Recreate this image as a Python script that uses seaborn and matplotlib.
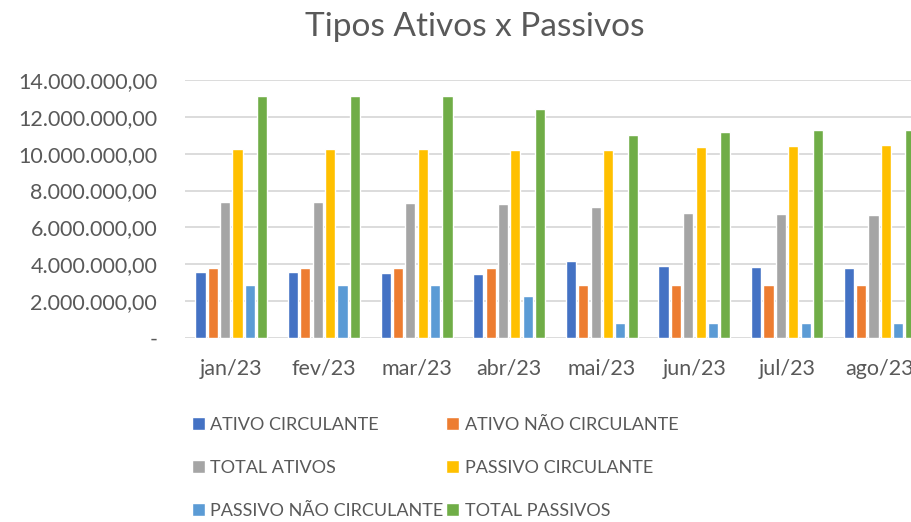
import pandas as pd
import matplotlib.pyplot as plt
import seaborn as sns

sns.set_style("white")
plt.rcParams['font.family'] = ['Lato', 'DejaVu Sans']

meses = ["jan/23", "fev/23", "mar/23", "abr/23", "mai/23", "jun/23", "jul/23", "ago/23"]

ativo_circ = [3600000, 3570000, 3530000, 3460000, 4200000, 3910000, 3870000, 3800000]
ativo_nao_circ = [3800000, 3800000, 3800000, 3800000, 2860000, 2860000, 2860000, 2860000]
total_ativos = [7400000, 7370000, 7350000, 7280000, 7090000, 6790000, 6750000, 6680000]
passivo_circ = [10240000, 10240000, 10240000, 10190000, 10190000, 10350000, 10440000, 10460000]
passivo_nao_circ = [2860000, 2860000, 2860000, 2260000, 800000, 800000, 800000, 800000]
total_passivos = [13120000, 13120000, 13120000, 12450000, 10990000, 11170000, 11260000, 11260000]

series = ["ATIVO CIRCULANTE", "ATIVO NÃO CIRCULANTE", "TOTAL ATIVOS",
          "PASSIVO CIRCULANTE", "PASSIVO NÃO CIRCULANTE", "TOTAL PASSIVOS"]
valores = [ativo_circ, ativo_nao_circ, total_ativos, passivo_circ, passivo_nao_circ, total_passivos]
cores = ["#4472C4", "#ED7D31", "#A5A5A5", "#FFC000", "#5B9BD5", "#70AD47"]

linhas = []
for nome, vals in zip(series, valores):
    for m, v in zip(meses, vals):
        linhas.append({"mes": m, "tipo": nome, "valor": v})
df = pd.DataFrame(linhas)

cinza = "#595959"

fig = plt.figure(figsize=(9.12, 5.22), dpi=100)
# o gráfico original está cortado à direita
ax = fig.add_axes([185 / 912, 184 / 522, 741 / 912, 258 / 522])

sns.barplot(data=df, x="mes", y="valor", hue="tipo", palette=dict(zip(series, cores)),
            hue_order=series, order=meses, width=0.8, gap=0.18, saturation=1, ax=ax)

ax.set_ylim(0, 14000000)
ax.set_xlim(-0.5, len(meses) - 0.5)
ax.set_yticks(range(0, 14000001, 2000000))


def fmt_br(v):
    if v == 0:
        return "-"
    s = f"{v:,.2f}"
    return s.replace(",", "X").replace(".", ",").replace("X", ".")


ax.set_yticklabels([fmt_br(v) for v in ax.get_yticks()])
ax.yaxis.grid(True, color="#D9D9D9", linewidth=1.3)
ax.set_axisbelow(True)
for s in ax.spines.values():
    s.set_visible(False)
ax.tick_params(axis="both", length=0, labelsize=15.5, colors=cinza)
ax.tick_params(axis="y", pad=20)
ax.tick_params(axis="x", pad=15)
ax.set_xlabel("")
ax.set_ylabel("")

handles, labels = ax.get_legend_handles_labels()
ax.get_legend().remove()
ordem = [0, 2, 4, 1, 3, 5]
fig.legend([handles[i] for i in ordem], [labels[i] for i in ordem],
           loc="center left", bbox_to_anchor=(192 / 912, 1 - 468 / 522), ncol=2,
           frameon=False, fontsize=13, labelcolor=cinza, handlelength=0.72,
           handleheight=0.72, handletextpad=0.3, columnspacing=0.15, labelspacing=1.49,
           borderpad=0, borderaxespad=0)

fig.text(475 / 912, 1 - 27 / 522, "Tipos Ativos x Passivos", ha="center", va="center",
         fontsize=24, color=cinza)

fig.savefig("out.png", dpi=100)
